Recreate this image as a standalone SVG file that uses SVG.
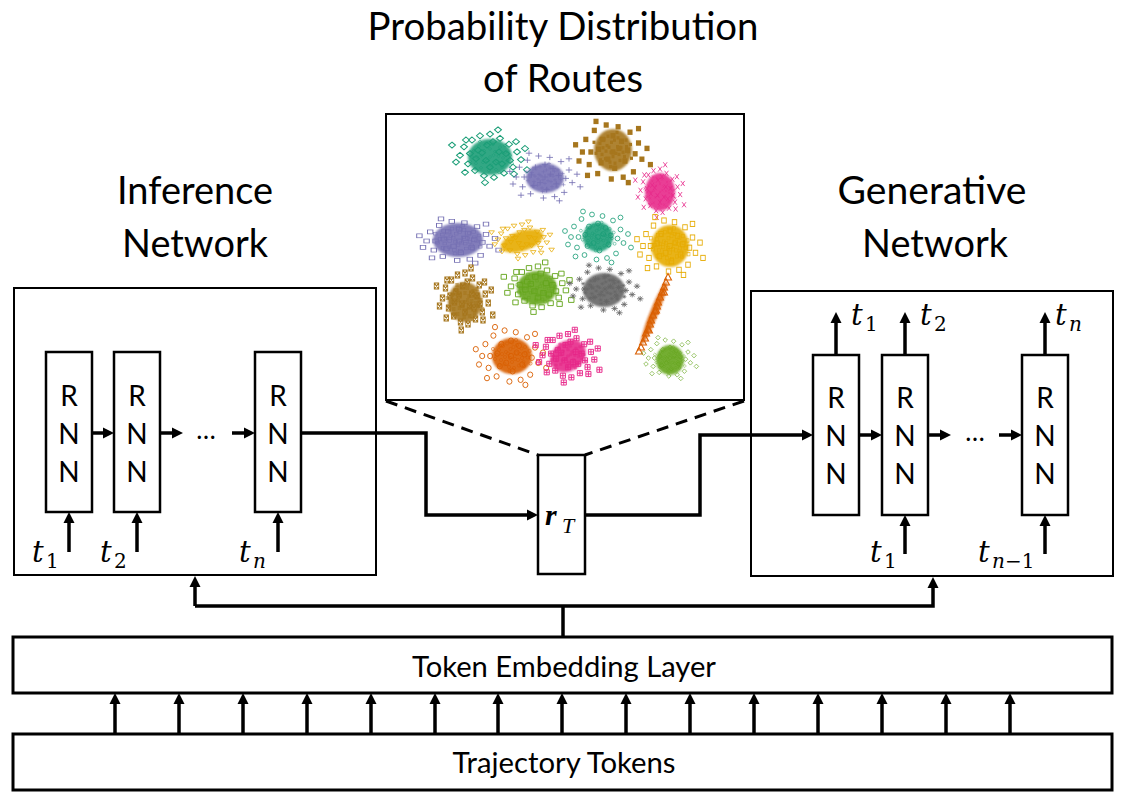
<svg xmlns="http://www.w3.org/2000/svg" xmlns:xlink="http://www.w3.org/1999/xlink" width="1128" height="806" viewBox="0 0 1128 806">
<style>
.box{fill:#fff;stroke:#000;stroke-width:2}
.thick{fill:#fff;stroke:#000;stroke-width:3}
.rnn{fill:#fff;stroke:#000;stroke-width:2.5}
.lbl{font-family:Lato,"Open Sans","Liberation Sans",sans-serif;fill:#000;text-anchor:middle}
.rnnt{font-family:Lato,"Liberation Sans",sans-serif;font-size:28px;text-anchor:middle;fill:#000}
.math{font-family:"DejaVu Serif","Liberation Serif",serif;font-style:italic;fill:#000}
.t{font-size:29px}
.s{font-size:20px}
.up{font-style:normal}
.conn{fill:none;stroke:#000;stroke-width:3.5}
.arr{marker-end:url(#ah)}
.dash{fill:none;stroke:#000;stroke-width:3;stroke-dasharray:12 8}
.pts{fill:none;stroke:none}
.mo{fill:none;stroke-width:1.1}
.core{filter:url(#soft);opacity:0.9}
</style>
<defs>
<marker id="ah" markerUnits="userSpaceOnUse" markerWidth="12" markerHeight="12" refX="2" refY="5.5" orient="auto" overflow="visible"><path d="M0,0 L11,5.5 L0,11 Z" fill="#000"/></marker>
<filter id="soft" x="-20%" y="-20%" width="140%" height="140%"><feGaussianBlur stdDeviation="1.2"/></filter>
<marker id="m1" markerUnits="userSpaceOnUse" markerWidth="10" markerHeight="10" refX="5" refY="5" overflow="visible"><path class="mo" stroke="#1b9e77" d="M5,1.5 L8.5,5 L5,8.5 L1.5,5 Z"/></marker>
<marker id="m2" markerUnits="userSpaceOnUse" markerWidth="10" markerHeight="10" refX="5" refY="5" overflow="visible"><path class="mo" stroke="#7570b3" d="M5,1 V9 M1,5 H9"/></marker>
<marker id="m3" markerUnits="userSpaceOnUse" markerWidth="10" markerHeight="10" refX="5" refY="5" overflow="visible"><rect x="2" y="2" width="6" height="6" fill="#a6761d"/></marker>
<marker id="m4" markerUnits="userSpaceOnUse" markerWidth="10" markerHeight="10" refX="5" refY="5" overflow="visible"><path class="mo" stroke="#e7298a" d="M2,2 L8,8 M8,2 L2,8"/></marker>
<marker id="m5" markerUnits="userSpaceOnUse" markerWidth="10" markerHeight="10" refX="5" refY="5" overflow="visible"><rect class="mo" stroke="#7570b3" x="2" y="2" width="6" height="6"/></marker>
<marker id="m6" markerUnits="userSpaceOnUse" markerWidth="10" markerHeight="10" refX="5" refY="5" overflow="visible"><path class="mo" stroke="#e6ab02" d="M1.5,2 L8.5,2 L5,8.5 Z"/></marker>
<marker id="m7" markerUnits="userSpaceOnUse" markerWidth="10" markerHeight="10" refX="5" refY="5" overflow="visible"><circle class="mo" stroke="#1b9e77" cx="5" cy="5" r="3.2"/></marker>
<marker id="m8" markerUnits="userSpaceOnUse" markerWidth="10" markerHeight="10" refX="5" refY="5" overflow="visible"><rect class="mo" stroke="#e6ab02" x="2" y="2" width="6" height="6"/></marker>
<marker id="m9" markerUnits="userSpaceOnUse" markerWidth="10" markerHeight="10" refX="5" refY="5" overflow="visible"><path class="mo" stroke="#a6761d" d="M2,2 H8 V8 H2 Z M2,2 L8,8 M8,2 L2,8"/></marker>
<marker id="m10" markerUnits="userSpaceOnUse" markerWidth="10" markerHeight="10" refX="5" refY="5" overflow="visible"><path class="mo" stroke="#66a61e" fill="#66a61e" fill-opacity="0.5" d="M2,2 H8 V8 H2 Z"/></marker>
<marker id="m11" markerUnits="userSpaceOnUse" markerWidth="10" markerHeight="10" refX="5" refY="5" overflow="visible"><path class="mo" stroke="#666666" d="M5,1 V9 M1,5 H9 M2.2,2.2 L7.8,7.8 M7.8,2.2 L2.2,7.8"/></marker>
<marker id="m12" markerUnits="userSpaceOnUse" markerWidth="10" markerHeight="10" refX="5" refY="5" overflow="visible"><path class="mo" stroke="#d95f02" d="M5,1.5 L8.5,8 L1.5,8 Z"/></marker>
<marker id="m13" markerUnits="userSpaceOnUse" markerWidth="10" markerHeight="10" refX="5" refY="5" overflow="visible"><circle class="mo" stroke="#d95f02" fill="#d95f02" fill-opacity="0.4" cx="5" cy="5" r="3.2"/></marker>
<marker id="m14" markerUnits="userSpaceOnUse" markerWidth="10" markerHeight="10" refX="5" refY="5" overflow="visible"><path class="mo" stroke="#e7298a" d="M2,2 H8 V8 H2 Z M5,2 V8 M2,5 H8"/></marker>
<marker id="m15" markerUnits="userSpaceOnUse" markerWidth="10" markerHeight="10" refX="5" refY="5" overflow="visible"><path class="mo" stroke="#66a61e" d="M5,1.2 L8.8,5 L5,8.8 L1.2,5 Z"/></marker>
<polyline id="pA" class="pts" points="-30,-2 -26,-12 -22,8 -18,-20 -15,16 -10,-25 -6,22 0,-27 4,24 10,-22 14,19 19,-15 23,12 27,-6 31,3 -24,-20 26,-18 -25,18 24,20 -34,6 35,-10 -8,-5 6,6 -14,2 16,-4 0,12 -3,-14 12,8 -20,-4 20,4 -38,-14 37,15 -5,30 8,-32 -12,-8 9,-6 -4,4 3,-18"/>
<polyline id="pB" class="pts" points="-36,0 -32,-14 -28,14 -22,-24 -18,24 -8,-30 -2,30 6,-28 12,28 20,-22 24,22 30,-10 34,8 -40,10 40,-4 -12,-14 10,-12 -14,12 14,10 0,0 -26,0 26,2 0,-18 2,18 -44,-8 44,14 -30,26 30,-26 18,34 -20,-34 -6,8 7,-4 -17,-3 17,-2"/>
</defs>
<rect width="1128" height="806" fill="#fff"/>

<g id="title">
<text class="lbl" x="563" y="40" font-size="39" textLength="391" lengthAdjust="spacingAndGlyphs">Probability Distribution</text>
<text class="lbl" x="563" y="92" font-size="39" textLength="160" lengthAdjust="spacingAndGlyphs">of Routes</text>
</g>
<g id="inference-label">
<text class="lbl" x="195" y="204" font-size="38" textLength="156" lengthAdjust="spacingAndGlyphs">Inference</text>
<text class="lbl" x="195" y="257" font-size="38" textLength="146" lengthAdjust="spacingAndGlyphs">Network</text>
</g>
<g id="generative-label">
<text class="lbl" x="932" y="204" font-size="38" textLength="189" lengthAdjust="spacingAndGlyphs">Generative</text>
<text class="lbl" x="935" y="257" font-size="38" textLength="146" lengthAdjust="spacingAndGlyphs">Network</text>
</g>

<g id="scatter">
<rect class="box" x="386" y="114" width="358" height="286"/>
<ellipse class="core" cx="490" cy="157" rx="22" ry="18" fill="#1b9e77"/>
<use href="#pA" transform="translate(490,157) scale(1,0.85)" style="marker:url(#m1)"/>
<use href="#pB" transform="translate(490,157) scale(0.5,0.45)" style="marker:url(#m1)"/>
<ellipse class="core" cx="545" cy="178" rx="19" ry="15" fill="#7570b3"/>
<use href="#pB" transform="translate(545,177) scale(0.8,0.7)" style="marker:url(#m2)"/>
<use href="#pA" transform="translate(545,178) scale(0.5,0.45)" style="marker:url(#m2)"/>
<ellipse class="core" cx="613" cy="150" rx="19" ry="21" fill="#a6761d"/>
<use href="#pB" transform="translate(613,152) scale(0.85,0.9)" style="marker:url(#m3)"/>
<use href="#pA" transform="translate(613,150) scale(0.5,0.55)" style="marker:url(#m3)"/>
<ellipse class="core" cx="660" cy="192" rx="15" ry="19" fill="#e7298a"/>
<use href="#pA" transform="translate(660,192) scale(0.65,0.85)" style="marker:url(#m4)"/>
<use href="#pB" transform="translate(660,192) scale(0.35,0.45)" style="marker:url(#m4)"/>
<ellipse class="core" cx="458" cy="240" rx="25" ry="17" fill="#7570b3"/>
<use href="#pB" transform="translate(459,241) scale(0.9,0.65)" style="marker:url(#m5)"/>
<use href="#pA" transform="translate(458,240) scale(0.6,0.45)" style="marker:url(#m5)"/>
<ellipse class="core" cx="522" cy="241" rx="22" ry="10" fill="#e6ab02" transform="rotate(-18 522 241)"/>
<use href="#pA" transform="translate(522,241) scale(0.8,0.6)" style="marker:url(#m6)"/>
<ellipse class="core" cx="598" cy="237" rx="15" ry="15" fill="#1b9e77"/>
<use href="#pB" transform="translate(598,237) scale(0.75,0.75)" style="marker:url(#m7)"/>
<use href="#pA" transform="translate(598,237) scale(0.45,0.45)" style="marker:url(#m7)"/>
<ellipse class="core" cx="670" cy="246" rx="19" ry="21" fill="#e6ab02"/>
<use href="#pB" transform="translate(670,246) scale(0.75,0.85)" style="marker:url(#m8)"/>
<use href="#pA" transform="translate(670,246) scale(0.5,0.55)" style="marker:url(#m8)"/>
<ellipse class="core" cx="465" cy="302" rx="17" ry="20" fill="#a6761d"/>
<use href="#pA" transform="translate(465,300) scale(0.75,1)" style="marker:url(#m9)"/>
<use href="#pB" transform="translate(465,302) scale(0.4,0.5)" style="marker:url(#m9)"/>
<ellipse class="core" cx="537" cy="288" rx="20" ry="17" fill="#66a61e"/>
<use href="#pA" transform="translate(538,288) scale(0.9,0.8)" style="marker:url(#m10)"/>
<use href="#pB" transform="translate(537,288) scale(0.45,0.4)" style="marker:url(#m10)"/>
<ellipse class="core" cx="604" cy="290" rx="21" ry="17" fill="#666666"/>
<use href="#pB" transform="translate(605,289) scale(0.8,0.7)" style="marker:url(#m11)"/>
<use href="#pA" transform="translate(604,290) scale(0.55,0.45)" style="marker:url(#m11)"/>
<ellipse class="core" cx="654" cy="313" rx="34" ry="4" fill="#d95f02" transform="rotate(112 654 313)"/>
<polyline class="pts" style="marker:url(#m12)" points="668,277 666,282 664,287 662,292 660,297 658,302 657,306 655,311 653,315 651,320 650,324 648,329 646,333 645,338 643,342 641,347 639,351 664,292 656,310 649,330"/>
<ellipse class="core" cx="512" cy="356" rx="20" ry="18" fill="#d95f02"/>
<use href="#pB" transform="translate(511,356) scale(0.8,0.85)" style="marker:url(#m13)"/>
<use href="#pA" transform="translate(512,356) scale(0.5,0.5)" style="marker:url(#m13)"/>
<ellipse class="core" cx="568" cy="356" rx="19" ry="15" fill="#e7298a" transform="rotate(-35 568 356)"/>
<use href="#pA" transform="translate(568,357) scale(0.85,0.85)" style="marker:url(#m14)"/>
<use href="#pB" transform="translate(568,356) scale(0.4,0.35)" style="marker:url(#m14)"/>
<ellipse class="core" cx="670" cy="360" rx="14" ry="15" fill="#66a61e"/>
<use href="#pB" transform="translate(670,358) scale(0.6,0.6)" style="marker:url(#m15)"/>
<use href="#pA" transform="translate(670,360) scale(0.4,0.4)" style="marker:url(#m15)"/>
</g>

<g id="inference-network">
<rect class="box" x="14" y="288" width="362" height="287"/>
<g id="inf-rnn1"><rect class="rnn" x="46" y="352" width="46" height="160"/><text class="rnnt"><tspan x="69" y="406">R</tspan><tspan x="69" y="444">N</tspan><tspan x="69" y="482">N</tspan></text></g>
<g id="inf-rnn2"><rect class="rnn" x="114" y="352" width="46" height="160"/><text class="rnnt"><tspan x="137" y="406">R</tspan><tspan x="137" y="444">N</tspan><tspan x="137" y="482">N</tspan></text></g>
<g id="inf-rnn3"><rect class="rnn" x="255" y="352" width="46" height="160"/><text class="rnnt"><tspan x="278" y="406">R</tspan><tspan x="278" y="444">N</tspan><tspan x="278" y="482">N</tspan></text></g>
<text class="lbl" x="206" y="439" font-size="26">…</text>
<text class="math t" x="32" y="562">t</text><text class="math s up" x="46" y="568">1</text>
<text class="math t" x="100" y="562">t</text><text class="math s up" x="114" y="568">2</text>
<text class="math t" x="239" y="562">t</text><text class="math s" x="253" y="568">n</text>
</g>

<g id="generative-network">
<rect class="box" x="751" y="291" width="362" height="285"/>
<g id="gen-rnn1"><rect class="rnn" x="813" y="355" width="46" height="160"/><text class="rnnt"><tspan x="836" y="408">R</tspan><tspan x="836" y="446">N</tspan><tspan x="836" y="484">N</tspan></text></g>
<g id="gen-rnn2"><rect class="rnn" x="882" y="355" width="46" height="160"/><text class="rnnt"><tspan x="905" y="408">R</tspan><tspan x="905" y="446">N</tspan><tspan x="905" y="484">N</tspan></text></g>
<g id="gen-rnn3"><rect class="rnn" x="1022" y="355" width="46" height="160"/><text class="rnnt"><tspan x="1045" y="408">R</tspan><tspan x="1045" y="446">N</tspan><tspan x="1045" y="484">N</tspan></text></g>
<text class="lbl" x="975" y="441" font-size="26">…</text>
<text class="math t" x="851" y="325">t</text><text class="math s up" x="865" y="331">1</text>
<text class="math t" x="920" y="325">t</text><text class="math s up" x="934" y="331">2</text>
<text class="math t" x="1055" y="325">t</text><text class="math s" x="1069" y="331">n</text>
<text class="math t" x="870" y="562">t</text><text class="math s up" x="884" y="568">1</text>
<text class="math t" x="978" y="562">t</text><text class="math s" x="992" y="568">n<tspan class="up">−1</tspan></text>
</g>

<g id="rT">
<rect class="rnn" x="538" y="455" width="47" height="119"/>
<text x="545" y="525" font-family="'Liberation Serif',serif" font-weight="bold" font-style="italic" font-size="30">r</text>
<text x="562" y="533" font-family="'Liberation Serif',serif" font-style="italic" font-size="22">T</text>
</g>

<g id="token-embedding">
<rect class="thick" x="13" y="637" width="1099" height="56"/>
<text class="lbl" x="564" y="677" font-size="28" textLength="304" lengthAdjust="spacingAndGlyphs">Token Embedding Layer</text>
</g>
<g id="trajectory-tokens">
<rect class="thick" x="13" y="734" width="1099" height="56"/>
<text class="lbl" x="564" y="773" font-size="28" textLength="223" lengthAdjust="spacingAndGlyphs">Trajectory Tokens</text>
</g>

<g id="connectors">
<path class="dash" d="M386,401 L538,455"/>
<path class="dash" d="M744,401 L585,455"/>
<path class="conn arr" d="M301,433 H426 V515 H529"/>
<path class="conn arr" d="M585,515 H700 V435 H804"/>
<path class="conn arr" d="M92,433 H105"/>
<path class="conn arr" d="M160,433 H174"/>
<path class="conn arr" d="M232,433 H246"/>
<path class="conn arr" d="M859,435 H873"/>
<path class="conn arr" d="M928,435 H942"/>
<path class="conn arr" d="M999,435 H1013"/>
<path class="conn arr" d="M69,552 V521"/>
<path class="conn arr" d="M137,552 V521"/>
<path class="conn arr" d="M278,552 V521"/>
<path class="conn arr" d="M836,355 V321"/>
<path class="conn arr" d="M905,355 V321"/>
<path class="conn arr" d="M1045,355 V321"/>
<path class="conn arr" d="M905,554 V524"/>
<path class="conn arr" d="M1045,554 V524"/>
<path class="conn" d="M563,637 V606"/>
<path class="conn arr" d="M195,606 V585"/>
<path class="conn arr" d="M195,606 H933 V586"/>
<path class="conn arr" d="M115,734 V702"/>
<path class="conn arr" d="M179,734 V702"/>
<path class="conn arr" d="M243,734 V702"/>
<path class="conn arr" d="M307,734 V702"/>
<path class="conn arr" d="M371,734 V702"/>
<path class="conn arr" d="M435,734 V702"/>
<path class="conn arr" d="M498,734 V702"/>
<path class="conn arr" d="M562,734 V702"/>
<path class="conn arr" d="M626,734 V702"/>
<path class="conn arr" d="M690,734 V702"/>
<path class="conn arr" d="M754,734 V702"/>
<path class="conn arr" d="M818,734 V702"/>
<path class="conn arr" d="M882,734 V702"/>
<path class="conn arr" d="M946,734 V702"/>
<path class="conn arr" d="M1010,734 V702"/>
</g>
</svg>
